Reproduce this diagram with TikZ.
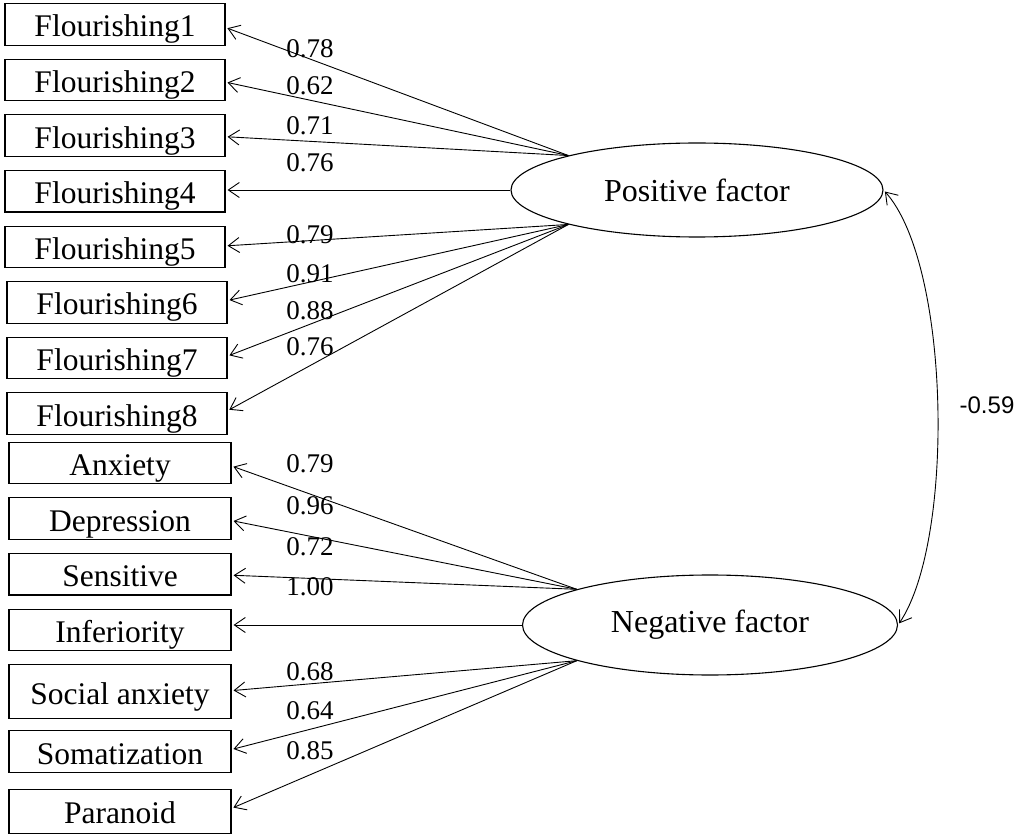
\documentclass[tikz,border=0pt]{standalone}
\usepackage{fontspec}
\setmainfont{Liberation Serif}
\newfontfamily\corrfont{Liberation Sans}
\usepackage{tikz}
\usetikzlibrary{calc, positioning, arrows.meta, shapes.geometric}

\begin{document}
\begin{tikzpicture}[x=1pt, y=-1pt, node distance=13pt]

    \tikzstyle{item} = [rectangle, draw, line width=1.1pt, minimum width=220pt, minimum height=41.5pt, inner sep=0pt, text height=25pt, text depth=0pt, font=\fontsize{31.5}{36}\selectfont]
    \tikzstyle{factor} = [ellipse, draw, line width=1.1pt, minimum width=372pt, minimum height=94pt, inner sep=0pt, font=\fontsize{32}{36}\selectfont]
    \tikzstyle{load} = [font=\fontsize{27}{30}\selectfont, inner sep=0pt]
    \tikzstyle{line} = [draw, line width=0.9pt, -{Straight Barb[length=11pt, width=15pt]}, shorten >=2pt]

    \useasboundingbox (0,0) rectangle (1021,834);

    % observed indicators
    \node [item] (f1) at (115,24.5) {Flourishing1};
    \node [item, below=of f1] (f2) {Flourishing2};
    \node [item, below=of f2] (f3) {Flourishing3};
    \node [item, below=of f3] (f4) {Flourishing4};
    \node [item, below=of f4] (f5) {Flourishing5};
    \node [item, below=of f5, xshift=2pt] (f6) {Flourishing6};
    \node [item, below=of f6] (f7) {Flourishing7};
    \node [item, below=of f7] (f8) {Flourishing8};

    \node [item, minimum width=222pt] (anx) at (120,463) {Anxiety};
    \node [item, minimum width=222pt, below=of anx] (dep) {Depression};
    \node [item, minimum width=222pt, below=of dep] (sen) {Sensitive};
    \node [item, minimum width=222pt, below=of sen] (inf) {Inferiority};
    \node [item, minimum width=222pt, minimum height=54pt, below=of inf] (soc) {Social anxiety};
    \node [item, minimum width=222pt, below=11pt of soc] (som) {Somatization};
    \node [item, minimum width=222pt, minimum height=44pt, below=16pt of som] (par) {Paranoid};

    % latent factors
    \node [factor] (pos) at (697,190) {Positive factor};
    \node [factor, minimum width=375pt, minimum height=100pt] (neg) at (710,625) {Negative factor};

    \coordinate (pos_up) at (pos.165);
    \coordinate (pos_dn) at (pos.195);
    \coordinate (neg_up) at (neg.165);
    \coordinate (neg_dn) at (neg.195);

    \path [line] (pos_up) -- ($(f1.east)+(0,3)$);
    \path [line] (pos_up) -- ($(f2.east)+(0,2)$);
    \path [line] (pos_up) -- ($(f3.east)+(0,1)$);
    \path [line] (pos.west) -- (pos.west -| f4.east);
    \path [line] (pos_dn) -- ($(f5.east)+(0,-1)$);
    \path [line] (pos_dn) -- ($(f6.east)+(0,-2)$);
    \path [line] (pos_dn) -- ($(f7.east)+(0,-2)$);
    \path [line] (pos_dn) -- ($(f8.east)+(0,-3)$);

    \path [line] (neg_up) -- ($(anx.east)+(0,3)$);
    \path [line] (neg_up) -- ($(dep.east)+(0,2)$);
    \path [line] (neg_up) -- ($(sen.east)+(0,1)$);
    \path [line] (neg.west) -- (neg.west -| inf.east);
    \path [line] (neg_dn) -- ($(soc.east)+(0,-1)$);
    \path [line] (neg_dn) -- ($(som.east)+(0,-2)$);
    \path [line] (neg_dn) -- ($(par.east)+(0,-3)$);

    % loadings
    \node [load] at (310,49) {0.78};
    \node [load] at (310,86) {0.62};
    \node [load] at (310,126) {0.71};
    \node [load] at (310,163) {0.76};
    \node [load] at (310,235) {0.79};
    \node [load] at (310,274) {0.91};
    \node [load] at (310,311) {0.88};
    \node [load] at (310,347) {0.76};
    \node [load] at (310,464) {0.79};
    \node [load] at (310,506) {0.96};
    \node [load] at (310,547) {0.72};
    \node [load] at (310,587) {1.00};
    \node [load] at (310,672) {0.68};
    \node [load] at (310,711) {0.64};
    \node [load] at (310,751) {0.85};

    % factor correlation
    \path [line, {Straight Barb[length=11pt, width=15pt]}-{Straight Barb[length=11pt, width=15pt]}, shorten <=2pt] (pos.east) .. controls +(67,75) and +(57,-85) .. (neg.east);
    \node [load, font=\corrfont\fontsize{24}{28}\selectfont] (corr) at (987,405) {-0.59};
\end{tikzpicture}
\end{document}
